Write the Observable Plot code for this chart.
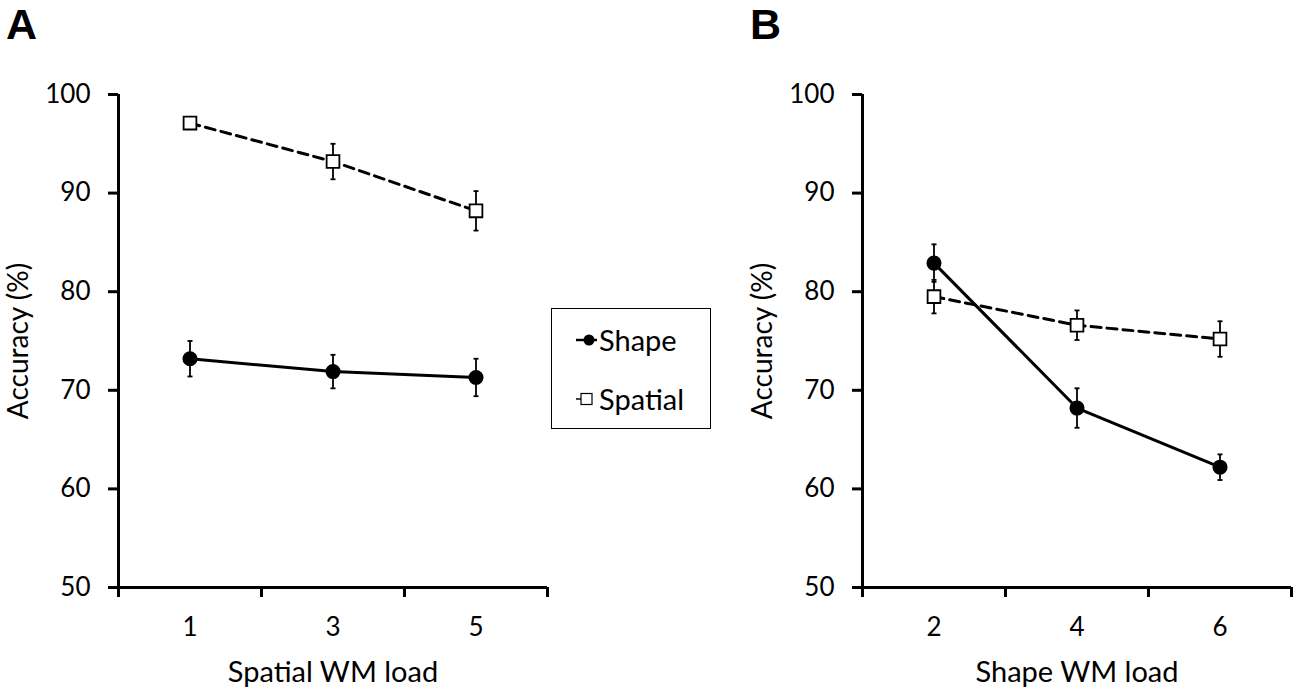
<!DOCTYPE html>
<html>
<head>
<meta charset="utf-8">
<script src="https://cdn.jsdelivr.net/npm/d3@7"></script>
<script src="https://cdn.jsdelivr.net/npm/@observablehq/plot@0.6"></script>
<style>
  html, body { margin: 0; padding: 0; background: #fff; overflow: hidden; }
  #wrap { position: relative; width: 1300px; height: 693px; background: #fff; }
  .panel { position: absolute; top: 0; z-index: 1; }
  .letter { position: absolute; z-index: 5; font-family: "Liberation Sans", Arial, sans-serif; font-weight: bold; font-size: 43px; line-height: 1; color: #000; }
  #legend { position: absolute; z-index: 5; left: 551px; top: 308px; width: 160px; height: 121px; border: 1.5px solid #000; box-sizing: border-box; font-family: Lato, sans-serif; font-size: 29px; color: #000; background: #fff; }
  .lg { position: absolute; left: 23px; display: flex; align-items: center; }
  .lg svg { display: block; }
</style>
</head>
<body>
<div id="wrap">
  <div id="panelA" class="panel" style="left:0px;"></div>
  <div id="panelB" class="panel" style="left:744px;"></div>
  <div class="letter" style="left:6px;top:3px;">A</div>
  <div class="letter" style="left:750px;top:3px;">B</div>
  <div id="legend">
    <div class="lg" style="top:13px;"><svg width="24" height="24"><line x1="1" y1="12" x2="22" y2="12" stroke="#000" stroke-width="2.5"/><circle cx="14" cy="12" r="5.5" fill="#000"/></svg><span>Shape</span></div>
    <div class="lg" style="top:72px;"><svg width="24" height="24"><line x1="1" y1="12" x2="6" y2="12" stroke="#000" stroke-width="1.5"/><rect x="6" y="6.5" width="11" height="11" fill="#fff" stroke="#000" stroke-width="1.2"/></svg><span>Spatial</span></div>
  </div>
</div>
<script>
// ---- Data ----
const loadsA = [1, 3, 5];
const shapeA = [73.2, 71.9, 71.3];
const shapeAErr = [1.8, 1.7, 1.9];
const spatialA = [97.1, 93.2, 88.2];
const spatialAErr = [0.4, 1.8, 2.0];

const loadsB = [2, 4, 6];
const shapeB = [82.9, 68.2, 62.2];
const shapeBErr = [1.9, 2.0, 1.3];
const spatialB = [79.5, 76.6, 75.2];
const spatialBErr = [1.7, 1.5, 1.8];

const yTicks = [50, 60, 70, 80, 90, 100];
const xDomainA = [0, 6];
const xDomainB = [1, 7];
const boundariesA = [0, 2, 4, 6];
const boundariesB = [1, 3, 5, 7];

const capSymbol = {
  draw(ctx, size) {
    const h = Math.sqrt(size / Math.PI);
    ctx.moveTo(-h, 0);
    ctx.lineTo(h, 0);
  }
};

function panel(loads, shape, shapeErr, spatial, spatialErr, xDomain, boundaries, xLabel) {
  const shapeRows = loads.map((l, i) => ({load: l, acc: shape[i], err: shapeErr[i]}));
  const spatialRows = loads.map((l, i) => ({load: l, acc: spatial[i], err: spatialErr[i]}));
  const all = shapeRows.concat(spatialRows);
  return Plot.plot({
    width: 556,
    height: 693,
    marginLeft: 118,
    marginRight: 9,
    marginTop: 94,
    marginBottom: 106,
    style: {fontFamily: "Lato, sans-serif", fontSize: "26px", color: "#000", background: "#fff"},
    x: {domain: xDomain},
    y: {domain: [50, 100]},
    marks: [
      Plot.ruleY([50], {stroke: "#000", strokeWidth: 3}),
      Plot.ruleX([xDomain[0]], {y1: 50, y2: 100, stroke: "#000", strokeWidth: 3}),
      Plot.axisY({ticks: yTicks, tickSize: 10, tickPadding: 18, strokeWidth: 3, fontSize: 26,
        label: null}),
      Plot.axisY({ticks: [], tickSize: 0, fontSize: 28,
        label: "Accuracy (%)", labelAnchor: "center", labelOffset: 110, labelArrow: "none"}),
      Plot.axisX({ticks: boundaries, tickSize: 10, strokeWidth: 3, tickFormat: () => "", label: null}),
      Plot.axisX({ticks: loads, tickSize: 0, tickPadding: 30, fontSize: 26, tickFormat: d => String(d), label: null}),
      Plot.axisX({ticks: [], tickSize: 0, fontSize: 29,
        label: xLabel, labelAnchor: "center", labelOffset: 94, labelArrow: "none"}),
      Plot.line(spatialRows, {x: "load", y: "acc", stroke: "#000", strokeWidth: 3, strokeDasharray: "10,6"}),
      Plot.line(shapeRows, {x: "load", y: "acc", stroke: "#000", strokeWidth: 3}),
      Plot.ruleX(all, {x: "load", y1: d => d.acc - d.err, y2: d => d.acc + d.err, stroke: "#000", strokeWidth: 1.8}),
      Plot.dot(all, {x: "load", y: d => d.acc - d.err, symbol: capSymbol, r: 2.5, stroke: "#000", strokeWidth: 1.8, fill: "none"}),
      Plot.dot(all, {x: "load", y: d => d.acc + d.err, symbol: capSymbol, r: 2.5, stroke: "#000", strokeWidth: 1.8, fill: "none"}),
      Plot.dot(spatialRows, {x: "load", y: "acc", symbol: "square", r: 7.2, fill: "#fff", stroke: "#000", strokeWidth: 1.8}),
      Plot.dot(shapeRows, {x: "load", y: "acc", r: 6.8, fill: "#000", stroke: "#000"})
    ]
  });
}

document.getElementById("panelA").append(panel(loadsA, shapeA, shapeAErr, spatialA, spatialAErr, xDomainA, boundariesA, "Spatial WM load"));
document.getElementById("panelB").append(panel(loadsB, shapeB, shapeBErr, spatialB, spatialBErr, xDomainB, boundariesB, "Shape WM load"));
</script>
</body>
</html>
